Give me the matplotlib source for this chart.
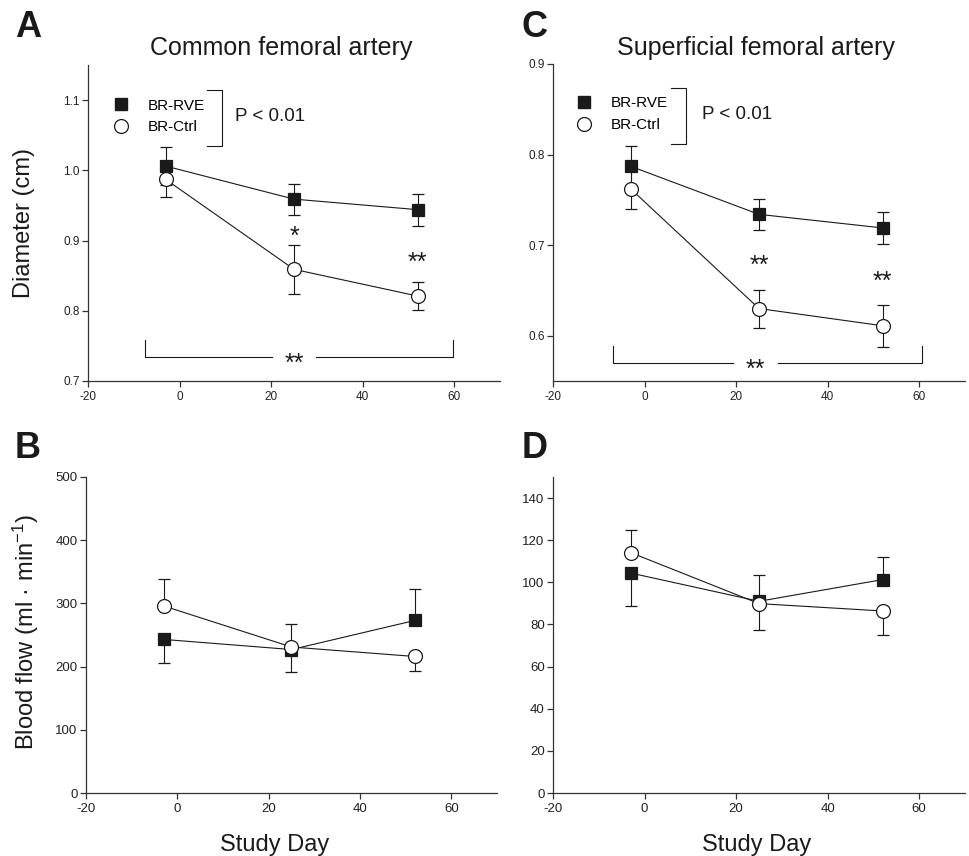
import numpy as np
import matplotlib
matplotlib.use("Agg")
import matplotlib.pyplot as plt
from matplotlib.lines import Line2D

plt.rcParams['font.family'] = ['Liberation Sans', 'DejaVu Sans']
plt.rcParams['mathtext.default'] = 'regular'
plt.rcParams['axes.unicode_minus'] = False

# study days of the three measurements
days = [-3, 25, 52]

# common femoral artery diameter (cm), mean and SE
cfa_diam_rve = [1.006, 0.959, 0.944]
cfa_diam_rve_se = [0.027, 0.022, 0.023]
cfa_diam_ctrl = [0.987, 0.859, 0.821]
cfa_diam_ctrl_se = [0.025, 0.035, 0.020]

# superficial femoral artery diameter (cm)
sfa_diam_rve = [0.787, 0.734, 0.719]
sfa_diam_rve_se = [0.022, 0.017, 0.018]
sfa_diam_ctrl = [0.762, 0.630, 0.611]
sfa_diam_ctrl_se = [0.022, 0.021, 0.023]

# common femoral blood flow (ml/min)
cfa_flow_rve = [243, 227, 273]
cfa_flow_rve_se = [37, 36, 49]
cfa_flow_ctrl = [296, 231, 216]
cfa_flow_ctrl_se = [42, 36, 23]

# superficial femoral blood flow (ml/min)
sfa_flow_rve = [104.4, 91.0, 101.3]
sfa_flow_rve_se = [15.6, 13.6, 10.8]
sfa_flow_ctrl = [114.1, 89.9, 86.4]
sfa_flow_ctrl_se = [10.7, 13.6, 11.4]

# flow panels only show one side of the error bar (-1 down, +1 up)
rve_err_side = [-1, -1, 1]
ctrl_err_side = [1, 1, -1]

x_ticks = [-20, 0, 20, 40, 60]
cfa_diam_ticks = [0.7, 0.8, 0.9, 1.0, 1.1]
sfa_diam_ticks = [0.6, 0.7, 0.8, 0.9]
cfa_flow_ticks = [0, 100, 200, 300, 400, 500]
sfa_flow_ticks = [0, 20, 40, 60, 80, 100, 120, 140]

W, H = 970, 856
fig = plt.figure(figsize=(W / 100, H / 100), dpi=100)

def px_axes(l, r, t, b):
    return fig.add_axes([l / W, 1 - b / H, (r - l) / W, (b - t) / H])

axA = px_axes(88, 500, 65, 381)
axC = px_axes(553, 965, 64, 381)
axB = px_axes(86, 497, 477, 793)
axD = px_axes(553, 965, 477, 793)

ink = '#1a1a1a'

def style(ax, yticks, ylim, fmt, labelsize):
    for s in ['top', 'right']:
        ax.spines[s].set_visible(False)
    for s in ['left', 'bottom']:
        ax.spines[s].set_linewidth(0.9)
        ax.spines[s].set_color('#333333')
    ax.set_xlim(-20, 70)
    ax.set_ylim(*ylim)
    ax.set_xticks(x_ticks)
    ax.set_yticks(yticks)
    ax.set_yticklabels([fmt.format(v) for v in yticks])
    ax.tick_params(direction='out', length=4, width=0.9, color='#333333',
                   labelsize=labelsize, labelcolor='#222222')
    ax.tick_params(axis='x', pad=3)
    ax.tick_params(axis='y', pad=2)

def series(ax, y, lo, hi, marker, face, ms):
    ax.errorbar(days, y, yerr=[lo, hi], color=ink, lw=0.8, elinewidth=0.8,
                capsize=4.5, capthick=0.8, marker=marker, mfc=face, mec=ink,
                mew=0.9, ms=ms, zorder=3)

def both(se):
    return se, se

def one_side(se, side):
    se = np.array(se)
    side = np.array(side)
    return se * (side < 0), se * (side > 0)

# diameter panels
series(axA, cfa_diam_rve, *both(cfa_diam_rve_se), 's', ink, 9)
series(axA, cfa_diam_ctrl, *both(cfa_diam_ctrl_se), 'o', 'white', 10)
series(axC, sfa_diam_rve, *both(sfa_diam_rve_se), 's', ink, 9)
series(axC, sfa_diam_ctrl, *both(sfa_diam_ctrl_se), 'o', 'white', 10)

# flow panels
series(axB, cfa_flow_rve, *one_side(cfa_flow_rve_se, rve_err_side), 's', ink, 9)
series(axB, cfa_flow_ctrl, *one_side(cfa_flow_ctrl_se, ctrl_err_side), 'o', 'white', 10)
series(axD, sfa_flow_rve, *one_side(sfa_flow_rve_se, rve_err_side), 's', ink, 9)
series(axD, sfa_flow_ctrl, *one_side(sfa_flow_ctrl_se, ctrl_err_side), 'o', 'white', 10)

style(axA, cfa_diam_ticks, (0.7, 1.15), '{:.1f}', 8.5)
style(axC, sfa_diam_ticks, (0.55, 0.9), '{:.1f}', 8.5)
style(axB, cfa_flow_ticks, (0, 500), '{:d}', 9.5)
style(axD, sfa_flow_ticks, (0, 150), '{:d}', 9.5)

# legends
handles = [Line2D([], [], ls='none', marker='s', mfc=ink, mec=ink, ms=9),
           Line2D([], [], ls='none', marker='o', mfc='white', mec=ink, mew=0.9, ms=10)]
for ax, anchor in [(axA, (0.061, 0.893)), (axC, (0.057, 0.898))]:
    ax.legend(handles, ['BR-RVE', 'BR-Ctrl'], loc='upper left', bbox_to_anchor=anchor,
              frameon=False, fontsize=11, handlelength=1.0, handletextpad=1.25,
              labelspacing=0.5, borderpad=0, borderaxespad=0)

# group effect brackets and P values
def group_bracket(ax, x0, x1, y0, y1, px, py):
    ax.plot([x0, x1, x1, x0], [y1, y1, y0, y0], color=ink, lw=0.8)
    ax.text(px, py, 'P < 0.01', fontsize=13.5, va='center', ha='left', color=ink)

group_bracket(axA, 6.0, 9.3, 1.034, 1.114, 12.1, 1.076)
group_bracket(axC, 5.7, 9.0, 0.812, 0.874, 12.5, 0.844)

# time effect brackets, the line is broken around the stars
def time_bracket(ax, x0, x1, y_line, y_top, gap0, gap1):
    ax.plot([x0, x0, gap0], [y_top, y_line, y_line], color=ink, lw=0.8)
    ax.plot([gap1, x1, x1], [y_line, y_line, y_top], color=ink, lw=0.8)
    ax.annotate('**', xy=((gap0 + gap1) / 2, y_line), xytext=(0, -10), textcoords='offset points',
                ha='center', va='baseline', fontsize=18, color=ink)

time_bracket(axA, -7.5, 59.7, 0.734, 0.758, 20.2, 29.9)
time_bracket(axC, -6.9, 60.7, 0.570, 0.589, 19.3, 29.2)

# between-group stars
def stars(ax, x, y, s):
    ax.annotate(s, xy=(x, y), xytext=(0, -7.5), textcoords='offset points',
                ha='center', va='baseline', fontsize=18, color=ink)

stars(axA, 25, 0.910, '*')
stars(axA, 52, 0.873, '**')
stars(axC, 25, 0.681, '**')
stars(axC, 52, 0.663, '**')

# titles, panel letters and axis labels
fig.text(281 / W, 1 - 55 / H, 'Common femoral artery', fontsize=18, ha='center', va='baseline', color=ink)
fig.text(756 / W, 1 - 55 / H, 'Superficial femoral artery', fontsize=18, ha='center', va='baseline', color=ink)
for letter, x, y in [('A', 15, 37), ('C', 522, 37), ('B', 15, 458), ('D', 522, 458)]:
    fig.text(x / W, 1 - y / H, letter, fontsize=26, fontweight='bold', va='baseline', color=ink)

fig.text(24 / W, 1 - 223 / H, 'Diameter (cm)', fontsize=17, rotation=90,
         ha='center', va='center', color=ink)
fig.text(26 / W, 1 - 632 / H, 'Blood flow (ml · min$^{-1}$)', fontsize=17, rotation=90,
         ha='center', va='center', color=ink)
fig.text(275 / W, 1 - 851 / H, 'Study Day', fontsize=17, ha='center', va='baseline', color=ink)
fig.text(757 / W, 1 - 851 / H, 'Study Day', fontsize=17, ha='center', va='baseline', color=ink)

fig.savefig('out.png', dpi=100)
